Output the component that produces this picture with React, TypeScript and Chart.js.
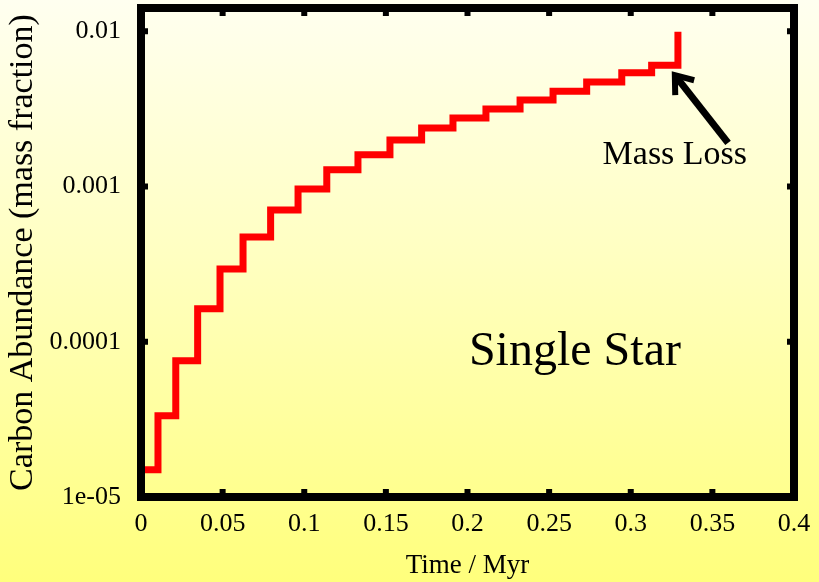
import React, { useEffect, useRef } from "react";
import { Chart, registerables } from "chart.js";

Chart.register(...registerables);

// Step start times (Myr) and carbon abundance (mass fraction)
const times = [0, 0.0104, 0.0213, 0.0347, 0.0484, 0.0625, 0.0794, 0.0962, 0.1138, 0.1329, 0.1525, 0.1719, 0.1911, 0.2113, 0.2322, 0.2524, 0.273, 0.2945, 0.3128, 0.3289];
const carbon = [1.5e-5, 3.34e-5, 7.55e-5, 1.63e-4, 2.94e-4, 4.73e-4, 7.06e-4, 9.64e-4, 1.28e-3, 1.6e-3, 1.99e-3, 2.38e-3, 2.76e-3, 3.15e-3, 3.6e-3, 4.11e-3, 4.7e-3, 5.39e-3, 6.04e-3, 9.9e-3];

const xTicks = [0, 0.05, 0.1, 0.15, 0.2, 0.25, 0.3, 0.35, 0.4];
const xTickLabels = ["0", "0.05", "0.1", "0.15", "0.2", "0.25", "0.3", "0.35", "0.4"];
const yTicks = [1e-5, 1e-4, 1e-3, 1e-2];
const yTickLabels = ["1e-05", "0.0001", "0.001", "0.01"];
const xTitle = "Time / Myr";
const yTitle = "Carbon Abundance (mass fraction)";

const starLabel = "Single Star";
const starLabelAt = [0.2658, 8.6e-5];
const lossLabel = "Mass Loss";
const lossLabelAt = [0.327, 1.6e-3];
const arrowTail = [0.3596, 1.91e-3];
const arrowTip = [0.327, 5.21e-3];

const SERIF = '"Liberation Serif", "Times New Roman", serif';

const overlayPlugin = {
  id: "overlay",
  afterDraw(chart: any) {
    const { ctx, chartArea, scales } = chart;
    const xs = scales.x;
    const ys = scales.y;
    ctx.save();
    // frame
    ctx.strokeStyle = "#000";
    ctx.lineWidth = 8;
    ctx.lineJoin = "miter";
    ctx.strokeRect(chartArea.left, chartArea.top, chartArea.right - chartArea.left, chartArea.bottom - chartArea.top);
    // inward ticks
    ctx.lineWidth = 6;
    ctx.lineCap = "butt";
    const tl = 8;
    xTicks.forEach((v) => {
      const px = xs.getPixelForValue(v);
      if (v === xTicks[0] || v === xTicks[xTicks.length - 1]) return;
      ctx.beginPath();
      ctx.moveTo(px, chartArea.bottom);
      ctx.lineTo(px, chartArea.bottom - tl);
      ctx.moveTo(px, chartArea.top);
      ctx.lineTo(px, chartArea.top + tl);
      ctx.stroke();
    });
    yTicks.forEach((v) => {
      const py = ys.getPixelForValue(v);
      if (v === yTicks[0]) return;
      ctx.beginPath();
      ctx.moveTo(chartArea.left, py);
      ctx.lineTo(chartArea.left + tl - 1, py);
      ctx.moveTo(chartArea.right, py);
      ctx.lineTo(chartArea.right - tl + 1, py);
      ctx.stroke();
    });
    // labels
    ctx.fillStyle = "#000";
    ctx.textAlign = "center";
    ctx.textBaseline = "middle";
    ctx.font = `48px ${SERIF}`;
    ctx.fillText(starLabel, xs.getPixelForValue(starLabelAt[0]), ys.getPixelForValue(starLabelAt[1]));
    ctx.font = `34px ${SERIF}`;
    ctx.fillText(lossLabel, xs.getPixelForValue(lossLabelAt[0]), ys.getPixelForValue(lossLabelAt[1]));
    // arrow
    const tx = xs.getPixelForValue(arrowTail[0]);
    const ty = ys.getPixelForValue(arrowTail[1]);
    const hx = xs.getPixelForValue(arrowTip[0]);
    const hy = ys.getPixelForValue(arrowTip[1]);
    const ang = Math.atan2(ty - hy, tx - hx);
    const hl = 20;
    const spread = (37 * Math.PI) / 180;
    ctx.lineWidth = 7;
    ctx.lineCap = "butt";
    ctx.beginPath();
    ctx.moveTo(tx, ty);
    ctx.lineTo(hx + 2 * Math.cos(ang), hy + 2 * Math.sin(ang));
    ctx.stroke();
    ctx.lineWidth = 6;
    ctx.lineJoin = "miter";
    ctx.beginPath();
    ctx.moveTo(hx + hl * Math.cos(ang - spread), hy + hl * Math.sin(ang - spread));
    ctx.lineTo(hx, hy);
    ctx.lineTo(hx + hl * Math.cos(ang + spread), hy + hl * Math.sin(ang + spread));
    ctx.stroke();
    ctx.restore();
  },
};

export default function App() {
  const ref = useRef<HTMLCanvasElement | null>(null);
  useEffect(() => {
    const canvas = ref.current;
    if (!canvas) return;
    const chart = new Chart(canvas, {
      type: "line",
      data: {
        datasets: [
          {
            data: times.map((t, i) => ({ x: t, y: carbon[i] })),
            borderColor: "#ff0000",
            borderWidth: 7,
            pointRadius: 0,
            stepped: true,
            fill: false,
            borderCapStyle: "butt",
            borderJoinStyle: "miter",
          },
        ],
      },
      options: {
        animation: false,
        responsive: false,
        devicePixelRatio: 1,
        layout: { padding: { top: 8, right: 25, left: 0, bottom: 0 } },
        plugins: { legend: { display: false }, tooltip: { enabled: false } },
        scales: {
          x: {
            type: "linear",
            min: 0,
            max: 0.4,
            afterBuildTicks: (s: any) => {
              s.ticks = xTicks.map((v) => ({ value: v }));
            },
            afterFit: (s: any) => {
              s.height = 85;
              s.paddingLeft = 0;
              s.paddingRight = 0;
              s.paddingTop = 0;
              s.paddingBottom = 0;
            },
            grid: { display: false, drawTicks: false },
            border: { display: false },
            ticks: {
              autoSkip: false,
              maxRotation: 0,
              padding: 12,
              color: "#000",
              font: { family: SERIF, size: 26 },
              callback: (_v: any, i: number) => xTickLabels[i],
            },
            title: {
              display: true,
              text: xTitle,
              color: "#000",
              font: { family: SERIF, size: 27 },
              padding: 0,
            },
          },
          y: {
            type: "logarithmic",
            min: 1e-5,
            max: 0.0141,
            afterBuildTicks: (s: any) => {
              s.ticks = yTicks.map((v) => ({ value: v }));
            },
            afterFit: (s: any) => {
              s.width = 141;
              s.paddingLeft = 0;
              s.paddingRight = 0;
              s.paddingTop = 0;
              s.paddingBottom = 0;
            },
            grid: { display: false, drawTicks: false },
            border: { display: false },
            ticks: {
              autoSkip: false,
              padding: 20,
              color: "#000",
              font: { family: SERIF, size: 26 },
              callback: (_v: any, i: number) => yTickLabels[i],
            },
            title: {
              display: true,
              text: yTitle,
              color: "#000",
              font: { family: SERIF, size: 34 },
              padding: { top: 3, bottom: 0 },
            },
          },
        },
      },
      plugins: [overlayPlugin],
    } as any);
    return () => chart.destroy();
  }, []);
  return (
    <div
      style={{
        position: "fixed",
        left: 0,
        top: 0,
        width: 819,
        height: 582,
        background: "linear-gradient(to bottom, #fffff0 0%, #ffffc0 45%, #ffff7c 100%)",
      }}
    >
      <canvas ref={ref} width={819} height={582} style={{ display: "block" }} />
    </div>
  );
}
